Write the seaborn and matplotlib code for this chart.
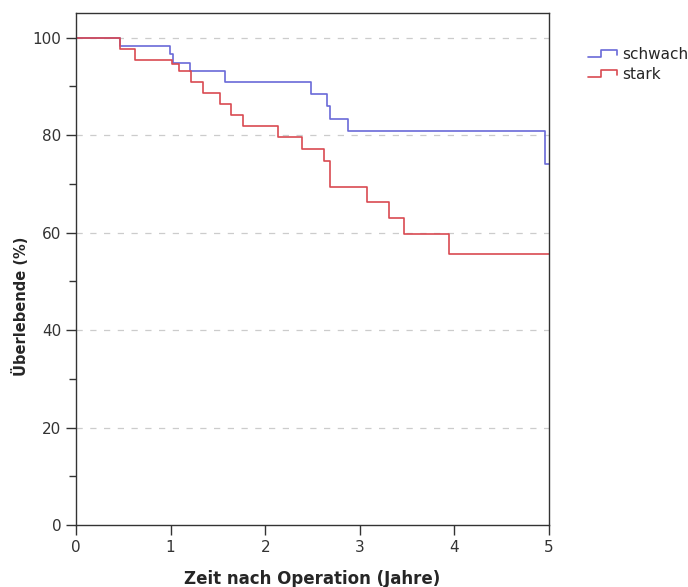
import matplotlib
matplotlib.use("Agg")
import matplotlib.pyplot as plt
from matplotlib.lines import Line2D
from matplotlib.legend_handler import HandlerBase
from matplotlib.ticker import MultipleLocator
import seaborn as sns
import pandas as pd

# Kaplan-Meier steps (time in years, survival in %)
schwach_t = [0.0, 0.47, 0.99, 1.03, 1.21, 1.57, 2.48, 2.65, 2.68, 2.87, 4.96, 5.0]
schwach_s = [100.0, 98.3, 96.6, 94.9, 93.2, 90.9, 88.4, 85.9, 83.3, 80.8, 74.1, 74.1]
stark_t = [0.0, 0.47, 0.62, 1.01, 1.09, 1.22, 1.34, 1.52, 1.64, 1.76, 2.14, 2.39,
           2.62, 2.69, 3.08, 3.31, 3.47, 3.94, 5.0]
stark_s = [100.0, 97.7, 95.5, 94.6, 93.2, 90.9, 88.6, 86.4, 84.1, 81.8, 79.6, 77.2,
           74.8, 69.3, 66.2, 63.0, 59.8, 55.6, 55.6]
groups = ["schwach", "stark"]
colors = {"schwach": "#6a6ad8", "stark": "#d94a52"}

df = pd.concat([
    pd.DataFrame({"Zeit": schwach_t, "Surv": schwach_s, "Gruppe": "schwach"}),
    pd.DataFrame({"Zeit": stark_t, "Surv": stark_s, "Gruppe": "stark"}),
])

sns.set_style("white")
plt.rcParams["font.family"] = ["DejaVu Sans"]

fig = plt.figure(figsize=(6.88, 5.87), dpi=100)
ax = fig.add_axes([0.1105, 0.1056, 0.6875, 0.8724])

sns.lineplot(data=df, x="Zeit", y="Surv", hue="Gruppe", palette=colors,
             estimator=None, sort=False, drawstyle="steps-post",
             linewidth=1.2, legend=False, ax=ax)

ax.set_xlim(0, 5)
ax.set_ylim(0, 105.1)
ax.set_yticks([0, 20, 40, 60, 80, 100])
ax.yaxis.set_minor_locator(MultipleLocator(10))
ax.set_xticks([0, 1, 2, 3, 4, 5])
for y in [20, 40, 60, 80, 100]:
    ax.axhline(y, color="#cccccc", linestyle=(0, (5, 6)), linewidth=0.9, zorder=0)

for sp in ax.spines.values():
    sp.set_color("#333333")
    sp.set_linewidth(1.0)
ax.tick_params(axis="both", which="major", direction="out", length=7, width=1.0,
               color="#333333", labelsize=11, labelcolor="#333333", left=True, bottom=True)
ax.tick_params(axis="y", which="minor", direction="out", length=5, width=1.0,
               color="#333333", left=True)

ax.set_xlabel("Zeit nach Operation (Jahre)", fontsize=12, fontweight="bold", labelpad=11)
ax.set_ylabel("Überlebende (%)", fontsize=10.5, fontweight="bold")
ax.yaxis.set_label_coords(-0.10, 0.428)


class StepHandler(HandlerBase):
    def create_artists(self, legend, orig_handle, xdescent, ydescent, width,
                       height, fontsize, trans):
        xs = [0, 0.45 * width, 0.45 * width, width, width]
        ys = [0.15 * height, 0.15 * height, 0.8 * height, 0.8 * height, 0.35 * height]
        line = Line2D(xs, ys, color=orig_handle.get_color(), linewidth=1.2)
        line.set_transform(trans)
        return [line]


handles = [Line2D([], [], color=colors[g]) for g in groups]
fig.legend(handles, groups, handler_map={Line2D: StepHandler()},
           loc="upper left", bbox_to_anchor=(0.855, 0.92), frameon=False,
           fontsize=11, handlelength=1.9, handletextpad=0.3, labelspacing=0.3,
           borderaxespad=0, borderpad=0)

fig.savefig("out.png", dpi=100)
